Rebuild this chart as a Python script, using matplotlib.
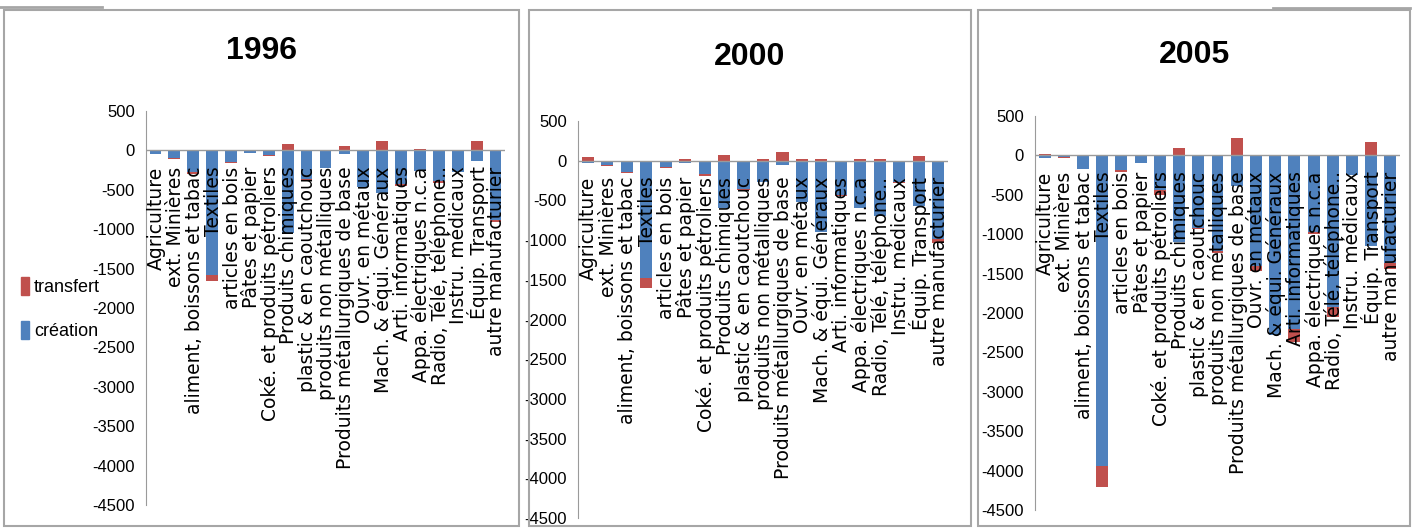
import numpy as np
import matplotlib
matplotlib.use('Agg')
import matplotlib.pyplot as plt
import matplotlib.patches as mpatches
from matplotlib.lines import Line2D
from matplotlib import font_manager

# secteurs (axe des catégories)
categories = ['Agriculture', 'ext. Minières', 'aliment, boissons et tabac',
              'Textiles', 'articles en bois', 'Pâtes et papier',
              'Coké. et produits pétroliers', 'Produits chimiques',
              'plastic & en caoutchouc', 'produits non métalliques',
              'Produits métallurgiques de base', 'Ouvr. en métaux',
              'Mach. & équi. Généraux', 'Arti. informatiques',
              'Appa. électriques n.c.a', 'Radio, Télé, téléphone..',
              'Instru. médicaux', 'Équip. Transport', 'autre manufacturier']

years = ['1996', '2000', '2005']

creation_1996 = [-50, -95, -280, -1575, -142, -30, -55, -1043, -366, -224,
                 -47, -465, -540, -431, -263, -392, -280, -138, -884]
transfert_1996 = [0, -15, -15, -85, -15, 0, -15, 86, -20, 0,
                  56, 0, 116, -20, 22, -20, 0, 116, -30]

creation_2000 = [-25, -55, -140, -1472, -85, -34, -162, -596, -353, -264,
                 -60, -515, -898, -430, -596, -702, -264, -566, -992]
transfert_2000 = [42, -13, -16, -128, -13, 25, -30, 72, -20, 25,
                  106, 20, 20, -20, 20, 20, -16, 60, -50]

creation_2005 = [-34, -20, -170, -3945, -190, -93, -437, -1100, -920, -1215,
                 -394, -1407, -2280, -2200, -975, -1928, -254, -1144, -1369]
transfert_2005 = [20, -13, 0, -265, -20, 0, -63, 93, -20, -20,
                  225, -55, 0, -170, -20, -125, 0, 170, -72]

series = [(creation_1996, transfert_1996),
          (creation_2000, transfert_2000),
          (creation_2005, transfert_2005)]

yticks = list(range(500, -5000, -500))

BLUE = '#4F81BD'
RED = '#C0504D'
GRAY = '#9a9a9a'

installed = {f.name for f in font_manager.fontManager.ttflist}
NARROW = 'Liberation Sans Narrow' if 'Liberation Sans Narrow' in installed else 'Liberation Sans'

W, H = 1420, 529
fig = plt.figure(figsize=(W / 100, H / 100), dpi=100)

# axes boxes in pixels: left, right, top(500), bottom(-4500)
boxes = [(146, 505, 111, 505), (578, 948, 121, 518), (1035, 1400, 116, 510)]
frames = [(4, 519, 10, 526), (529, 971, 10, 526), (978, 1410, 10, 526)]
title_pos = [(262, 51), (750, 57), (1195, 55)]

x = np.arange(len(categories))
for k, (crea, trans) in enumerate(series):
    l, r, t, b = boxes[k]
    ax = fig.add_axes([l / W, 1 - b / H, (r - l) / W, (b - t) / H])
    crea = np.array(crea, dtype=float)
    trans = np.array(trans, dtype=float)
    bottom = np.where(trans >= 0, np.maximum(crea, 0), np.minimum(crea, 0))
    ax.bar(x, crea, width=0.62, color=BLUE, zorder=2)
    ax.bar(x, trans, width=0.62, bottom=bottom, color=RED, zorder=2)
    ax.set_xlim(-0.5, len(categories) - 0.5)
    ax.set_ylim(-4500, 500)
    ax.set_yticks(yticks)
    ax.set_yticklabels([str(v) for v in yticks], family=NARROW, fontsize=12)
    ax.tick_params(axis='y', length=0, pad=8)
    ax.set_xticks([])
    for s in ['top', 'right', 'bottom']:
        ax.spines[s].set_visible(False)
    ax.spines['left'].set_color(GRAY)
    ax.axhline(0, color=GRAY, lw=1, zorder=3)
    ax.patch.set_alpha(0)
    for i, lab in enumerate(categories):
        ax.annotate(lab, (i, 0), xytext=(1, -16), textcoords='offset pixels',
                    rotation=90, ha='center', va='top', fontsize=13.5,
                    family='DejaVu Sans', zorder=5)

    fx, fy = title_pos[k]
    fig.text(fx / W, 1 - fy / H, years[k], ha='center', va='center',
             family=NARROW, fontweight='bold', fontsize=23)

    fl, fr, ft, fb = frames[k]
    fig.patches.append(mpatches.Rectangle((fl / W, 1 - fb / H), (fr - fl) / W, (fb - ft) / H,
                                          transform=fig.transFigure, fill=False,
                                          edgecolor='#a6a6a6', lw=1.5))

# bouts de cadres coupés en haut
fig.lines.append(Line2D([0, 102 / W], [1 - 7 / H, 1 - 7 / H], transform=fig.transFigure,
                        color='#a6a6a6', lw=2))
fig.lines.append(Line2D([1273 / W, 1410 / W], [1 - 8 / H, 1 - 8 / H], transform=fig.transFigure,
                        color='#a6a6a6', lw=2))

# légende (panneau 1996)
fig.legend(handles=[mpatches.Patch(color=RED, label='transfert'),
                    mpatches.Patch(color=BLUE, label='création')],
           loc='upper left', bbox_to_anchor=(14 / W, 1 - 270 / H), frameon=False,
           prop={'family': NARROW, 'size': 13}, handlelength=0.45, handleheight=1.1,
           handletextpad=0.25, labelspacing=1.4, borderaxespad=0)

fig.savefig('out.png', dpi=100)
